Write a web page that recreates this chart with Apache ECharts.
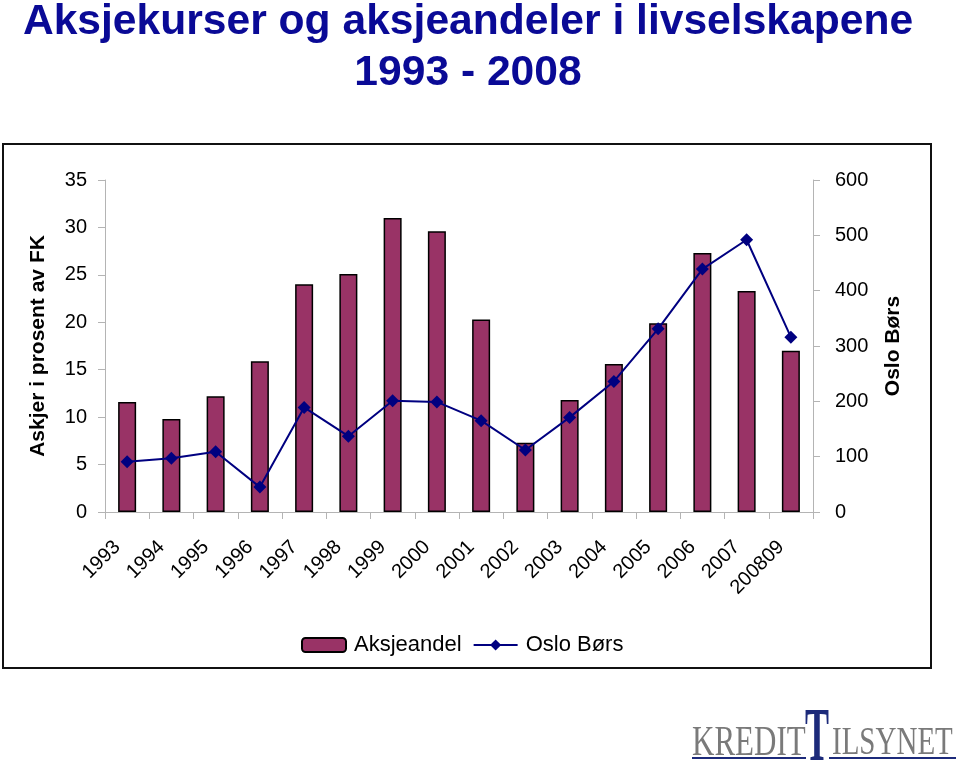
<!DOCTYPE html>
<html>
<head>
<meta charset="utf-8">
<script src="https://cdn.jsdelivr.net/npm/echarts@6/dist/echarts.min.js"></script>
<style>
html,body{margin:0;padding:0;background:#fff;}
#chart{width:960px;height:765px;}
</style>
</head>
<body>
<div id="chart"></div>
<script>
var categories = ['1993','1994','1995','1996','1997','1998','1999','2000','2001','2002','2003','2004','2005','2006','2007','200809'];
var aksjeandel = [11.6, 9.8, 12.2, 15.9, 24.0, 25.1, 31.0, 29.6, 20.3, 7.3, 11.8, 15.6, 19.9, 27.3, 23.3, 17.0];
var osloBors = [91, 97, 109, 45, 189, 137, 201, 199, 165, 112, 171, 236, 331, 439, 492, 316];
var titleLines = ['Aksjekurser og aksjeandeler i livselskapene', '1993 - 2008'];
var leftAxisName = 'Askjer i prosent av FK';
var rightAxisName = 'Oslo Børs';
var logoParts = ['KREDIT', 'T', 'ILSYNET'];

var FONT = '"Liberation Sans", Arial, sans-serif';
var SERIF = '"Liberation Serif", "Times New Roman", serif';
var AXIS_GRAY = '#b4b4b4';

var chart = echarts.init(document.getElementById('chart'), null, {renderer: 'canvas'});

var option = {
  backgroundColor: '#fff',
  animation: false,
  textStyle: {fontFamily: FONT},
  grid: {left: 105, right: 147, top: 180, bottom: 253, containLabel: false},
  legend: {
    left: 301, top: 634, padding: 0,
    itemWidth: 44, itemHeight: 14, itemGap: 11,
    textStyle: {fontFamily: FONT, fontSize: 22, color: '#000', padding: [0, 0, 0, 3]},
    data: ['Aksjeandel', 'Oslo Børs']
  },
  xAxis: {
    type: 'category',
    data: categories,
    axisLine: {lineStyle: {color: AXIS_GRAY, width: 1}},
    axisTick: {show: true, length: 7, lineStyle: {color: AXIS_GRAY}},
    axisLabel: {rotate: 45, margin: 22, fontSize: 20, color: '#000', fontFamily: FONT, interval: 0, padding: [0, 14, 0, 0]},
    splitLine: {show: false}
  },
  yAxis: [
    {
      type: 'value', min: 0, max: 35, interval: 5, position: 'left',
      name: leftAxisName, nameLocation: 'middle', nameRotate: 90, nameGap: 56,
      nameTextStyle: {fontFamily: FONT, fontSize: 21, fontWeight: 'bold', color: '#000'},
      axisLine: {show: true, lineStyle: {color: AXIS_GRAY}},
      axisTick: {show: true, length: 7, lineStyle: {color: AXIS_GRAY}},
      axisLabel: {fontSize: 20, color: '#000', margin: 18, fontFamily: FONT},
      splitLine: {show: false}
    },
    {
      type: 'value', min: 0, max: 600, interval: 100, position: 'right',
      name: rightAxisName, nameLocation: 'middle', nameRotate: 90, nameGap: 70,
      nameTextStyle: {fontFamily: FONT, fontSize: 21, fontWeight: 'bold', color: '#000'},
      axisLine: {show: true, lineStyle: {color: AXIS_GRAY}},
      axisTick: {show: true, length: 7, lineStyle: {color: AXIS_GRAY}},
      axisLabel: {fontSize: 20, color: '#000', margin: 22, fontFamily: FONT},
      splitLine: {show: false}
    }
  ],
  series: [
    {
      name: 'Aksjeandel', type: 'bar', yAxisIndex: 0,
      data: aksjeandel, barWidth: 18,
      itemStyle: {color: '#993366', borderColor: '#000', borderWidth: 1.5}
    },
    {
      name: 'Oslo Børs', type: 'line', yAxisIndex: 1,
      data: osloBors,
      symbol: 'diamond', symbolSize: 13,
      lineStyle: {color: '#000080', width: 2},
      itemStyle: {color: '#000080'}
    }
  ],
  graphic: [
    {type: 'rect', z: -10, silent: true,
     shape: {x: 3, y: 144, width: 928, height: 524},
     style: {fill: 'none', stroke: '#111', lineWidth: 2}},
    {type: 'text', x: 468, y: 22, silent: true,
     style: {text: titleLines[0], font: 'bold 42.6px ' + FONT, fill: '#0a0a96', textAlign: 'center', textVerticalAlign: 'middle'}},
    {type: 'text', x: 468, y: 73, silent: true,
     style: {text: titleLines[1], font: 'bold 42.6px ' + FONT, fill: '#0a0a96', textAlign: 'center', textVerticalAlign: 'middle'}},
    {type: 'text', x: 692, y: 744, scaleY: 1.35, silent: true,
     style: {text: logoParts[0], font: '31px ' + SERIF, fill: '#7a7a7a', textAlign: 'left', textVerticalAlign: 'middle'}},
    {type: 'text', x: 805, y: 740, scaleX: 0.6, scaleY: 1.28, silent: true,
     style: {text: logoParts[1], font: 'bold 60px ' + SERIF, fill: '#1c2a7a', textAlign: 'left', textVerticalAlign: 'middle'}},
    {type: 'text', x: 832, y: 744, scaleY: 1.35, silent: true,
     style: {text: logoParts[2], font: '29px ' + SERIF, fill: '#7a7a7a', textAlign: 'left', textVerticalAlign: 'middle'}},
    {type: 'line', silent: true, shape: {x1: 692, y1: 758, x2: 806, y2: 758}, style: {stroke: '#1c2a7a', lineWidth: 2}},
    {type: 'line', silent: true, shape: {x1: 829, y1: 758, x2: 956, y2: 758}, style: {stroke: '#1c2a7a', lineWidth: 2}}
  ]
};
chart.setOption(option);
</script>
</body>
</html>
